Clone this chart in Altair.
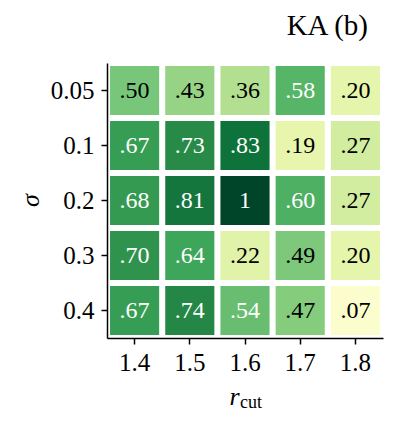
import altair as alt
import pandas as pd

r_cut = ["1.4", "1.5", "1.6", "1.7", "1.8"]
sigma = ["0.05", "0.1", "0.2", "0.3", "0.4"]
values = [
    [0.50, 0.43, 0.36, 0.58, 0.20],
    [0.67, 0.73, 0.83, 0.19, 0.27],
    [0.68, 0.81, 1.00, 0.60, 0.27],
    [0.70, 0.64, 0.22, 0.49, 0.20],
    [0.67, 0.74, 0.54, 0.47, 0.07],
]
ylgn = ["#ffffe5", "#f7fcb9", "#d9f0a3", "#addd8e", "#78c679",
        "#41ab5d", "#238443", "#006837", "#004529"]

rows = []
for i, s in enumerate(sigma):
    for j, r in enumerate(r_cut):
        v = values[i][j]
        lab = "1" if v >= 1 else f"{v:.2f}".lstrip("0")
        rows.append({"r": r, "s": s, "v": v, "label": lab})
df = pd.DataFrame(rows)

FONT = "Liberation Serif"

base = alt.Chart(df).encode(
    x=alt.X("r:N", sort=r_cut,
            scale=alt.Scale(paddingInner=0.11, paddingOuter=0.055),
            axis=alt.Axis(title="r", titleFontStyle="italic", titleFontSize=26,
                          titleFontWeight="normal", titleFont=FONT,
                          titleX=127, titleY=66, titleBaseline="alphabetic",
                          labelAngle=0, labelPadding=6)),
    y=alt.Y("s:N", sort=sigma,
            scale=alt.Scale(paddingInner=0.11, paddingOuter=0.055),
            axis=alt.Axis(title="σ", titleFontStyle="italic", titleFontSize=26,
                          titleFontWeight="normal", titleFont=FONT,
                          titleX=-77, titleY=137, titleAngle=-90,
                          titleBaseline="middle", labelPadding=7)),
)

rect = base.mark_rect().encode(
    color=alt.Color("v:Q",
                    scale=alt.Scale(domain=[i / 8 for i in range(9)], range=ylgn),
                    legend=None)
)

text = base.mark_text(font=FONT, fontSize=24, baseline="middle").encode(
    text="label:N",
    color=alt.condition(alt.datum.v > 0.5, alt.value("white"), alt.value("black")),
)

sub = alt.Chart(pd.DataFrame({"t": ["cut"]})).mark_text(
    font=FONT, fontSize=18, align="left", baseline="alphabetic", color="black"
).encode(text="t:N", x=alt.value(133), y=alt.value(345))

chart = alt.layer(rect, text, sub).properties(
    width=276, height=275,
    autosize="none",
    padding={"left": 99, "top": 55, "right": 7, "bottom": 77},
    title=alt.Title("KA (b)", anchor="end", dx=-15, offset=22, font=FONT,
                    fontSize=29, fontWeight="normal", color="black"),
).configure_view(stroke=None).configure_axis(
    domainColor="black", domainWidth=1.5, tickColor="black", tickWidth=1.5,
    tickSize=6, labelFont=FONT, labelFontSize=25, labelColor="black",
    grid=False, titleColor="black",
)

chart.save("out.html", embed_options={"renderer": "svg", "actions": False})
